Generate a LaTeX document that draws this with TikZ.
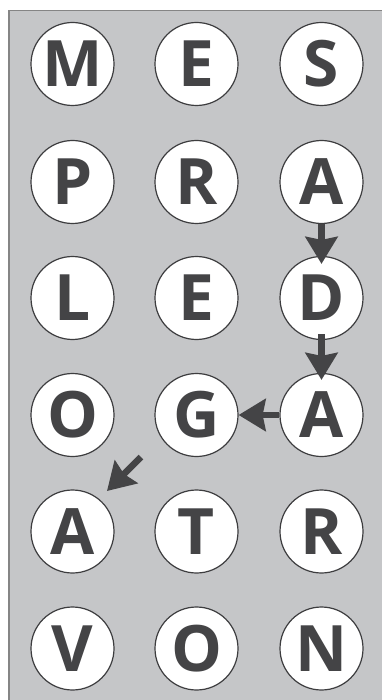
\documentclass[tikz,border=0pt]{standalone}
\usepackage{fontspec}
\setmainfont{Open Sans}
\usetikzlibrary{arrows.meta}
\definecolor{bggray}{HTML}{C5C6C8}
\definecolor{edgegray}{HTML}{858585}
\definecolor{ink}{HTML}{444446}
\tikzset{
  letter/.style={circle, draw=ink!90!black, line width=1.2pt, fill=white,
    minimum size=83pt, inner sep=0pt, text=ink,
    font=\fontsize{64}{64}\selectfont\bfseries},
  flow/.style={draw=ink, line width=6.5pt,
    -{Stealth[length=27pt,width=32pt,inset=3pt]}}
}
\begin{document}
\begin{tikzpicture}[x=1pt,y=-1pt]
\useasboundingbox (0,0) rectangle (382,700);
\clip (0,0) rectangle (382,700);
\draw[fill=bggray, draw=edgegray, line width=1.6pt] (9,10.5) rectangle (400,720);
% nodes
\node[letter] (m) at (72.5,64) {M};
\node[letter] (e1) at (196.5,64) {E};
\node[letter] (s) at (321.5,64) {S};
\node[letter] (p) at (72.5,182) {P};
\node[letter] (r1) at (196.5,182) {R};
\node[letter] (a1) at (321.5,182) {A};
\node[letter] (l) at (72.5,298) {L};
\node[letter] (e2) at (196.5,298) {E};
\node[letter] (d) at (321.5,298) {D};
\node[letter] (o1) at (72.5,415) {O};
\node[letter] (g) at (196.5,415) {G};
\node[letter] (a2) at (321.5,415) {A};
\node[letter] (a3) at (72.5,531.5) {A};
\node[letter] (t) at (196.5,531.5) {T};
\node[letter] (r2) at (321.5,531.5) {R};
\node[letter] (v) at (72.5,648.5) {V};
\node[letter] (o2) at (196.5,648.5) {O};
\node[letter] (n) at (321.5,648.5) {N};
% arrows
\draw[flow, shorten >=-8pt] (a1.south) -- (d.north);
\draw[flow, shorten <=-6pt, shorten >=-7pt] (d.south) -- (a2.north);
\draw[flow] (a2.west) -- (g.east);
\coordinate (ds) at (141,457);
\coordinate (de) at (107,491);
\draw[flow] (ds) -- (de);
\end{tikzpicture}
\end{document}
